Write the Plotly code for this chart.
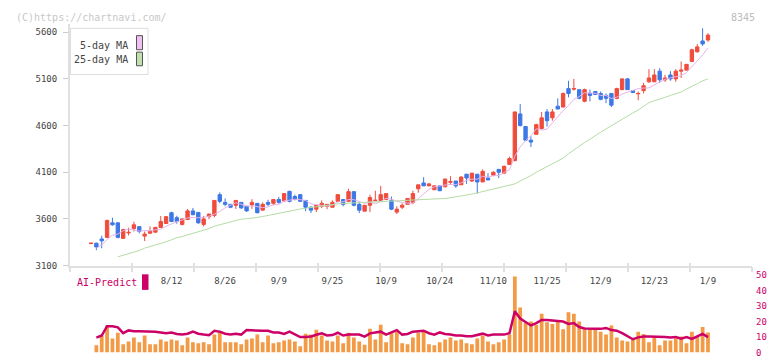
import plotly.graph_objects as go
import pandas as pd

# ---------------- data ----------------
opens = [3335, 3340, 3385, 3402, 3558, 3558, 3392, 3450, 3496, 3517,
         3416, 3447, 3458, 3509, 3551, 3666, 3613, 3541, 3593, 3686,
         3670, 3541, 3624, 3638, 3860, 3777, 3756, 3746, 3777, 3735,
         3749, 3767, 3694, 3777, 3767, 3808, 3791, 3895, 3840, 3860,
         3798, 3725, 3704, 3735, 3735, 3725, 3788, 3808, 3788, 3892,
         3756, 3683, 3746, 3795, 3798, 3808, 3798, 3673, 3725, 3756,
         3777, 3923, 3985, 3954, 3912, 3954, 3944, 3992, 4006, 3965,
         4079, 4006, 4079, 3996, 4038, 4069, 4131, 4090, 4183, 4225,
         4725, 4590, 4444, 4506, 4569, 4746, 4683, 4808, 4798, 4996,
         4990, 4985, 4860, 4944, 4965, 4944, 4923, 4944, 4892, 4985,
         5100, 4975, 4940, 4975, 5069, 5069, 5183, 5090, 5142, 5100,
         5183, 5194, 5287, 5391, 5506, 5517]
highs = [3342, 3345, 3420, 3593, 3613, 3562, 3496, 3506, 3569, 3520,
         3465, 3520, 3515, 3631, 3630, 3677, 3634, 3605, 3707, 3718,
         3672, 3631, 3655, 3800, 3884, 3819, 3756, 3798, 3777, 3740,
         3811, 3770, 3777, 3805, 3808, 3836, 3875, 3902, 3860, 3862,
         3798, 3735, 3746, 3798, 3756, 3798, 3860, 3808, 3923, 3892,
         3777, 3746, 3860, 3902, 3954, 3871, 3840, 3735, 3767, 3819,
         3902, 3965, 4048, 3985, 3954, 3960, 4030, 4058, 4006, 4058,
         4079, 4090, 4079, 4131, 4090, 4110, 4131, 4173, 4267, 4746,
         4830, 4590, 4485, 4620, 4746, 4777, 4777, 4892, 4954, 5080,
         5100, 4985, 4996, 4985, 4965, 4965, 4944, 4944, 5006, 5105,
         5110, 4975, 4965, 5058, 5204, 5204, 5215, 5142, 5183, 5204,
         5287, 5260, 5423, 5475, 5642, 5590]
lows = [3333, 3265, 3285, 3395, 3527, 3392, 3384, 3423, 3465, 3444,
        3363, 3437, 3450, 3505, 3545, 3570, 3548, 3530, 3590, 3640,
        3548, 3520, 3597, 3617, 3767, 3735, 3715, 3707, 3707, 3676,
        3707, 3660, 3694, 3735, 3746, 3763, 3788, 3777, 3798, 3785,
        3683, 3663, 3673, 3715, 3704, 3725, 3788, 3735, 3788, 3735,
        3663, 3683, 3673, 3788, 3798, 3808, 3694, 3652, 3704, 3756,
        3756, 3881, 3954, 3950, 3912, 3898, 3940, 3965, 3933, 3965,
        3975, 3996, 3871, 3996, 4017, 4058, 4038, 4090, 4183, 4215,
        4590, 4433, 4370, 4506, 4558, 4590, 4652, 4777, 4798, 4902,
        4975, 4881, 4850, 4860, 4933, 4871, 4840, 4798, 4881, 4980,
        4985, 4954, 4871, 4944, 5058, 5069, 5058, 5069, 5080, 5069,
        5110, 5190, 5287, 5381, 5454, 5496]
closes = [3340, 3300, 3365, 3582, 3537, 3402, 3485, 3456, 3537, 3465,
          3437, 3468, 3509, 3572, 3624, 3572, 3572, 3600, 3686, 3645,
          3558, 3600, 3652, 3798, 3788, 3756, 3725, 3798, 3718, 3686,
          3777, 3666, 3756, 3756, 3808, 3777, 3871, 3788, 3808, 3788,
          3725, 3694, 3746, 3767, 3756, 3777, 3860, 3756, 3892, 3746,
          3694, 3746, 3829, 3800, 3860, 3871, 3704, 3704, 3746, 3819,
          3871, 3965, 3954, 3975, 3954, 3902, 4027, 4000, 3954, 4048,
          4038, 4090, 3996, 4110, 4017, 4100, 4100, 4163, 4246, 4746,
          4600, 4444, 4423, 4610, 4683, 4652, 4746, 4777, 4944, 4944,
          4996, 4892, 4985, 4923, 4933, 4881, 4892, 4819, 4996, 5100,
          4985, 4954, 4944, 5027, 5110, 5142, 5090, 5110, 5100, 5183,
          5194, 5256, 5412, 5443, 5475, 5569]

# 5-day MA values before a full 5-day window exists
ma5_head = [None, 3287, 3319, 3381]

# 25-day MA (earlier history not shown)
ma25 = [None, None, None, None, None,
        3194, 3209, 3225, 3243, 3261, 3287, 3303, 3319, 3336, 3355,
        3376, 3399, 3412, 3428, 3449, 3465, 3480, 3496, 3522, 3537,
        3552, 3566, 3584, 3598, 3602, 3606, 3616, 3626, 3638, 3649,
        3660, 3673, 3688, 3700, 3706, 3714, 3723, 3732, 3741, 3748,
        3755, 3761, 3766, 3769, 3772, 3774, 3777, 3779, 3782, 3784,
        3786, 3788, 3790, 3792, 3795, 3798, 3801, 3804, 3807, 3810,
        3814, 3819, 3827, 3835, 3845, 3855, 3866, 3879, 3892, 3907,
        3921, 3938, 3949, 3956, 3975, 4006, 4032, 4064, 4100, 4131,
        4159, 4189, 4220, 4251, 4298, 4340, 4381, 4418, 4454, 4496,
        4529, 4564, 4600, 4631, 4663, 4699, 4735, 4767, 4808, 4845,
        4866, 4881, 4902, 4923, 4939, 4959, 4991, 5017, 5048, 5079,
        5100]

volume = [None, 4.7, 11.0, 17.6, 9.1, 12.8, 5.4, 7.2, 9.7, 6.6,
          11.0, 5.4, 5.4, 8.5, 7.2, 8.5, 7.8, 4.7, 9.7, 6.6,
          6.0, 6.6, 5.4, 11.6, 12.8, 6.6, 6.6, 6.6, 5.4, 8.5,
          9.1, 11.6, 6.6, 11.0, 6.0, 6.6, 7.8, 8.5, 7.2, 4.1,
          12.2, 11.6, 14.7, 11.0, 7.8, 7.2, 11.0, 6.0, 12.8, 9.7,
          7.2, 5.0, 15.3, 8.5, 17.9, 6.6, 12.5, 13.5, 6.0, 5.4,
          9.7, 12.8, 14.1, 5.4, 4.7, 6.6, 8.5, 9.7, 7.8, 8.5,
          6.0, 5.4, 9.1, 11.0, 7.2, 5.4, 6.6, 8.5, 11.6, 49.1,
          29.0, 19.0, 20.0, 18.0, 25.0, 19.5, 18.5, 20.0, 15.0, 26.0,
          25.0, 20.0, 15.0, 15.0, 15.0, 13.5, 11.6, 17.5, 9.7, 7.8,
          7.2, 8.5, 13.5, 12.0, 6.6, 9.7, 4.7, 7.8, 7.8, 9.1,
          10.3, 6.0, 13.5, 10.3, 16.5, 13.0]

predict = [None, 9.7, 11.0, 17.0, 17.0, 16.3, 12.5, 14.3, 13.8, 13.8,
           13.8, 13.8, 13.5, 13.0, 12.5, 13.0, 12.0, 11.6, 12.2, 13.5,
           12.2, 11.6, 11.2, 14.0, 13.5, 12.2, 11.6, 12.2, 11.6, 14.5,
           14.5, 14.3, 14.1, 14.0, 13.0, 13.0, 12.0, 13.5, 11.6, 10.0,
           10.0, 10.3, 11.5, 12.4, 11.0, 11.3, 12.8, 11.0, 11.6, 11.6,
           11.6, 10.3, 12.4, 13.0, 13.5, 11.6, 13.0, 14.5, 11.6, 12.0,
           13.5, 13.8, 14.1, 12.5, 11.6, 13.0, 12.0, 11.6, 11.0, 11.0,
           10.5, 10.5, 11.6, 12.2, 11.0, 11.6, 11.6, 11.6, 12.5, 26.6,
           22.0, 19.5, 17.5, 19.0, 21.0, 21.0, 20.5, 20.3, 20.0, 18.5,
           19.0, 16.5, 15.6, 15.3, 15.3, 15.3, 15.9, 14.5, 14.1, 12.5,
           10.5, 8.6, 9.8, 10.3, 10.3, 10.3, 10.0, 10.0, 9.8, 10.0,
           9.0, 10.0, 8.8, 10.5, 12.0, 10.0]

date_label_index = [15, 25, 35, 45, 55, 65, 75, 85, 95, 105, 115]
date_labels = ["8/12", "8/26", "9/9", "9/25", "10/9", "10/24",
               "11/10", "11/25", "12/9", "12/23", "1/9"]
price_ticks = [3100, 3600, 4100, 4600, 5100, 5600]
predict_ticks = [0, 10, 20, 30, 40, 50]

# ---------------- derived ----------------
idx = list(range(len(closes)))
ma5_calc = pd.Series(closes).rolling(5).mean().tolist()
ma5 = ma5_head + ma5_calc[len(ma5_head):]

# ---------------- layout geometry ----------------
W, H = 772, 361
def px_x(x):
    return x / W
def px_y(y):
    return 1 - y / H

X0, X1 = 70, 752
I0_PX, STEP = 91.0, 5.365
xr = [(X0 - I0_PX) / STEP, (X1 - I0_PX) / STEP]

MONO = "DejaVu Sans Mono"
RED = "#f04c3c"
BLUE = "#3c78e6"
CRIMSON = "#cc0066"
AXIS = "#e0e0e0"

fig = go.Figure()

fig.add_trace(go.Candlestick(
    x=idx, open=opens, high=highs, low=lows, close=closes,
    xaxis="x", yaxis="y",
    increasing=dict(line=dict(color=RED, width=1), fillcolor=RED),
    decreasing=dict(line=dict(color=BLUE, width=1), fillcolor=BLUE),
    whiskerwidth=0, showlegend=False, hoverinfo="skip"))

fig.add_trace(go.Scatter(x=idx, y=ma5, mode="lines", xaxis="x", yaxis="y",
                         line=dict(color="#e6b4ea", width=1),
                         showlegend=False, hoverinfo="skip"))
fig.add_trace(go.Scatter(x=idx, y=ma25, mode="lines", xaxis="x", yaxis="y",
                         line=dict(color="#b4dca4", width=1),
                         showlegend=False, hoverinfo="skip"))

fig.add_trace(go.Bar(x=idx, y=volume, xaxis="x2", yaxis="y2",
                     marker=dict(color="#f29a45", line=dict(width=0)),
                     showlegend=False, hoverinfo="skip"))
fig.add_trace(go.Scatter(x=idx, y=predict, mode="lines", xaxis="x2", yaxis="y2",
                         line=dict(color=CRIMSON, width=2.5),
                         showlegend=False, hoverinfo="skip"))

# invisible traces so the tick-mark overlay axes are drawn
for ax in ("x3", "x4"):
    fig.add_trace(go.Scatter(x=[0, 11], y=[None, None], xaxis=ax, yaxis="y",
                             mode="lines", showlegend=False, hoverinfo="skip"))

xdom = [px_x(X0), px_x(X1)]
fig.update_layout(
    width=W, height=H,
    margin=dict(l=0, r=0, t=0, b=0),
    paper_bgcolor="white", plot_bgcolor="white",
    boxgap=0.1,
    bargap=0.3,
    xaxis=dict(domain=xdom, range=xr, anchor="y",
               tickmode="array", tickvals=date_label_index, ticktext=date_labels,
               ticks="", showline=True, linecolor=AXIS, linewidth=2,
               showgrid=False, zeroline=False, ticklabelstandoff=6,
               tickfont=dict(family=MONO, size=9, color="#444"),
               rangeslider=dict(visible=False), fixedrange=True),
    xaxis3=dict(domain=xdom, range=[0, 11], anchor="y", overlaying="x",
                tickmode="linear", tick0=0, dtick=1, ticks="outside",
                ticklen=5, tickwidth=1.5, tickcolor=AXIS,
                showticklabels=False, showline=False, showgrid=False,
                zeroline=False),
    xaxis4=dict(domain=xdom, range=[0, 11], anchor="y", overlaying="x",
                tickmode="linear", tick0=0, dtick=1, ticks="inside",
                ticklen=3, tickwidth=1.5, tickcolor=AXIS,
                showticklabels=False, showline=False, showgrid=False,
                zeroline=False),
    yaxis=dict(domain=[px_y(268), px_y(20)], range=[3100, 3100 + 248 * 500 / 48],
               anchor="x", tickmode="array", tickvals=price_ticks,
               ticks="outside", ticklen=5, tickcolor="#cccccc", tickwidth=1,
               showline=True, linecolor=AXIS, linewidth=2,
               showgrid=False, zeroline=False, ticklabelstandoff=4,
               tickfont=dict(family=MONO, size=9, color="#444")),
    xaxis2=dict(domain=xdom, range=xr, anchor="y2", visible=False),
    yaxis2=dict(domain=[px_y(357.5), px_y(277.7)], range=[0, 50], anchor="x2",
                side="right", tickmode="array", tickvals=predict_ticks,
                ticks="", showline=False, showgrid=False, zeroline=False,
                ticklabelstandoff=3,
                tickfont=dict(family=MONO, size=9, color=CRIMSON)),
)

shapes = [
    # legend box
    dict(type="rect", xref="paper", yref="paper",
         x0=px_x(70.5), x1=px_x(148), y0=px_y(71.5), y1=px_y(24),
         line=dict(color="#dddddd", width=1), fillcolor="white"),
    dict(type="rect", xref="paper", yref="paper",
         x0=px_x(136.5), x1=px_x(142.5), y0=px_y(46), y1=px_y(31.5),
         line=dict(color="#555555", width=1), fillcolor="#f0c0f0"),
    dict(type="rect", xref="paper", yref="paper",
         x0=px_x(136.5), x1=px_x(142.5), y0=px_y(62.5), y1=px_y(48.5),
         line=dict(color="#555555", width=1), fillcolor="#c0e0b0"),
    # AI-Predict marker
    dict(type="rect", xref="paper", yref="paper",
         x0=px_x(142), x1=px_x(148.5), y0=px_y(293), y1=px_y(277),
         line=dict(width=0), fillcolor=CRIMSON),
]
fig.update_layout(shapes=shapes)

annotations = [
    dict(text="(C)https://chartnavi.com/", x=px_x(14), y=px_y(12.5),
         xanchor="left", yanchor="middle",
         font=dict(family=MONO, size=10, color="#c8c8c8")),
    dict(text="8345", x=px_x(757), y=px_y(12.5), xanchor="right", yanchor="middle",
         font=dict(family=MONO, size=10, color="#bbbbbb")),
    dict(text="5-day MA", x=px_x(130), y=px_y(41.5), xanchor="right", yanchor="middle",
         font=dict(family=MONO, size=10, color="#444")),
    dict(text="25-day MA", x=px_x(130), y=px_y(56.5), xanchor="right", yanchor="middle",
         font=dict(family=MONO, size=10, color="#444")),
    dict(text="AI-Predict", x=px_x(75), y=px_y(285.5), xanchor="left", yanchor="middle",
         font=dict(family=MONO, size=10, color=CRIMSON)),
]
for a in annotations:
    a.update(xref="paper", yref="paper", showarrow=False)
fig.update_layout(annotations=annotations)

fig.write_html("out.html",
               config={"displayModeBar": False, "staticPlot": True},
               post_script="document.body.style.margin='0';document.body.style.overflow='hidden';")
